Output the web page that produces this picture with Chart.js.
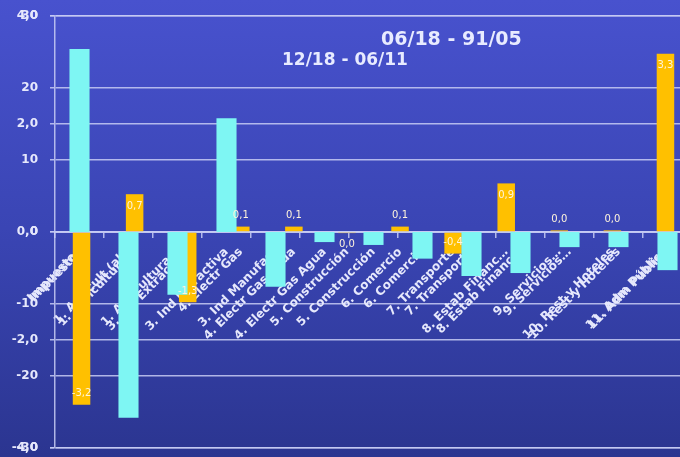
<!DOCTYPE html>
<html>
<head>
<meta charset="utf-8">
<script src="https://cdn.jsdelivr.net/npm/chart.js@4"></script>
<style>
  html, body { margin: 0; padding: 0; overflow: hidden; }
  body {
    width: 680px; height: 457px; position: relative;
    background: linear-gradient(180deg, #4852ce 0%, #3a45b4 50%, #2b3590 100%);
    font-family: "DejaVu Sans", sans-serif;
  }
  #wrap { position: absolute; left: 0; top: 0; width: 696px; height: 457px; }
  .ttl { position: absolute; color: #e8ebff; font-weight: bold; white-space: nowrap; }
</style>
</head>
<body>
<div id="wrap"><canvas id="chart"></canvas></div>
<div class="ttl" style="left:381px; top:27px; font-size:19px;">06/18 - 91/05</div>
<div class="ttl" style="left:282px; top:49px; font-size:17px;">12/18 - 06/11</div>
<script>
  var cyanLabels = ["Impuestos", "1. Agricult (ab)", "1. Agricultura\u2026", "3. Ind Extractiva", "3. Ind Manufact",
    "4. Electr Gas Agua", "5. Construcción", "6. Comercio", "7. Transporte", "8. Estab Financ\u2026",
    "9. Servicios\u2026", "10. Rest y Hoteles", "11. Adm Pública"];
  var orangeLabels = ["Impuestos", "1. Agricultura\u2026", "3. Ind Extractiva", "4. Electr Gas", "4. Electr Gas Agua",
    "5. Construcción", "6. Comercio", "7. Transporte", "8. Estab Financ\u2026", "9. Servicios\u2026",
    "10. Rest y Hoteles", "11. Adm Pública"];
  var cyanValues = [25.4, -25.8, -8.7, 15.8, -7.6, -1.4, -1.8, -3.7, -6.1, -5.7, -2.1, -2.1, -5.3];
  var orangeValues = [-3.2, 0.7, -1.3, 0.1, 0.1, -0.02, 0.1, -0.4, 0.9, 0.03, 0.03, 3.3];
  var orangeTicks = [-4, -2, 0, 2, 4];
  var cyanTicks = [-30, -20, -10, 0, 10, 20, 30];
  var ORANGE_MAX = 4;
  var CYAN_MAX = 30;

  var lineColor = "rgba(200,205,245,0.85)";
  var textColor = "#e6e8fc";

  function fmt1(v) {
    if (Math.abs(v) < 0.05) {
      return "0,0";
    }
    return v.toFixed(1).replace(".", ",");
  }

  // the axes must not push the plot area around
  function noPadding(scale) {
    scale.paddingLeft = 0;
    scale.paddingRight = 0;
    scale.paddingTop = 0;
    scale.paddingBottom = 0;
  }

  // orange value labels: inside the bar end when the bar is tall enough
  var valueLabels = {
    id: "valueLabels",
    afterDatasetsDraw: function (chart) {
      var meta = chart.getDatasetMeta(1);
      var ctx = chart.ctx;
      ctx.save();
      ctx.font = '10px "DejaVu Sans"';
      ctx.fillStyle = "#fff4dc";
      ctx.textAlign = "center";
      ctx.textBaseline = "middle";
      meta.data.forEach(function (bar, i) {
        var v = orangeValues[i];
        var h = Math.abs(bar.base - bar.y);
        var y;
        if (h > 16) {
          y = v > 0 ? bar.y + 12 : bar.y - 11;
        } else {
          y = v >= 0 ? bar.y - 11 : bar.y + 11;
        }
        ctx.fillText(fmt1(v), bar.x, y);
      });
      ctx.restore();
    }
  };

  var xTickStyle = {
    autoSkip: false,
    minRotation: 45,
    maxRotation: 45,
    color: textColor,
    padding: 8,
    font: { family: "DejaVu Sans", size: 12, weight: "bold" }
  };

  new Chart(document.getElementById("chart"), {
    type: "bar",
    data: {
      datasets: [
        {
          label: "12/18 - 06/11",
          data: cyanValues,
          xAxisID: "x",
          yAxisID: "y2",
          backgroundColor: "#7ef6f3",
          grouped: false,
          barPercentage: 0.41,
          categoryPercentage: 1
        },
        {
          label: "06/18 - 91/05",
          data: orangeValues,
          xAxisID: "x2",
          yAxisID: "y",
          backgroundColor: "#ffc000",
          grouped: false,
          barPercentage: 0.33,
          categoryPercentage: 1
        }
      ]
    },
    options: {
      responsive: true,
      maintainAspectRatio: false,
      animation: false,
      layout: { padding: { left: 12, top: 16, right: 4, bottom: 9 } },
      plugins: {
        legend: { display: false },
        tooltip: { enabled: false }
      },
      scales: {
        x: {
          type: "category",
          labels: cyanLabels,
          position: { y: 0 },
          offset: true,
          z: 1,
          afterFit: noPadding,
          grid: {
            display: true,
            drawOnChartArea: false,
            drawTicks: true,
            tickLength: 5,
            offset: true,
            color: lineColor,
            lineWidth: 1.5
          },
          border: { display: true, color: lineColor, width: 2 },
          ticks: xTickStyle
        },
        x2: {
          type: "category",
          labels: orangeLabels,
          position: { y: 0 },
          offset: true,
          z: 1,
          afterFit: noPadding,
          grid: { display: false, tickLength: 5 },
          border: { display: false },
          ticks: xTickStyle
        },
        y: {
          position: "left",
          min: -ORANGE_MAX,
          max: ORANGE_MAX,
          z: 1,
          afterFit: function (scale) {
            noPadding(scale);
            scale.width = 43;
          },
          afterBuildTicks: function (scale) {
            var list = [];
            orangeTicks.forEach(function (v) {
              list.push({ value: v, txt: fmt1(v) });
            });
            cyanTicks.forEach(function (v) {
              list.push({ value: v * ORANGE_MAX / CYAN_MAX, txt: String(v) });
            });
            list.sort(function (a, b) { return a.value - b.value; });
            scale.ticks = list;
          },
          ticks: {
            autoSkip: false,
            color: textColor,
            padding: 12,
            font: { family: "DejaVu Sans", size: 12, weight: "bold" },
            callback: function (value, i, ticks) { return ticks[i].txt; }
          },
          grid: { color: lineColor, lineWidth: 1.5, tickLength: 5 },
          border: { color: lineColor, width: 1.5 }
        },
        y2: {
          display: false,
          min: -CYAN_MAX,
          max: CYAN_MAX
        }
      }
    },
    plugins: [valueLabels]
  });
</script>
</body>
</html>
